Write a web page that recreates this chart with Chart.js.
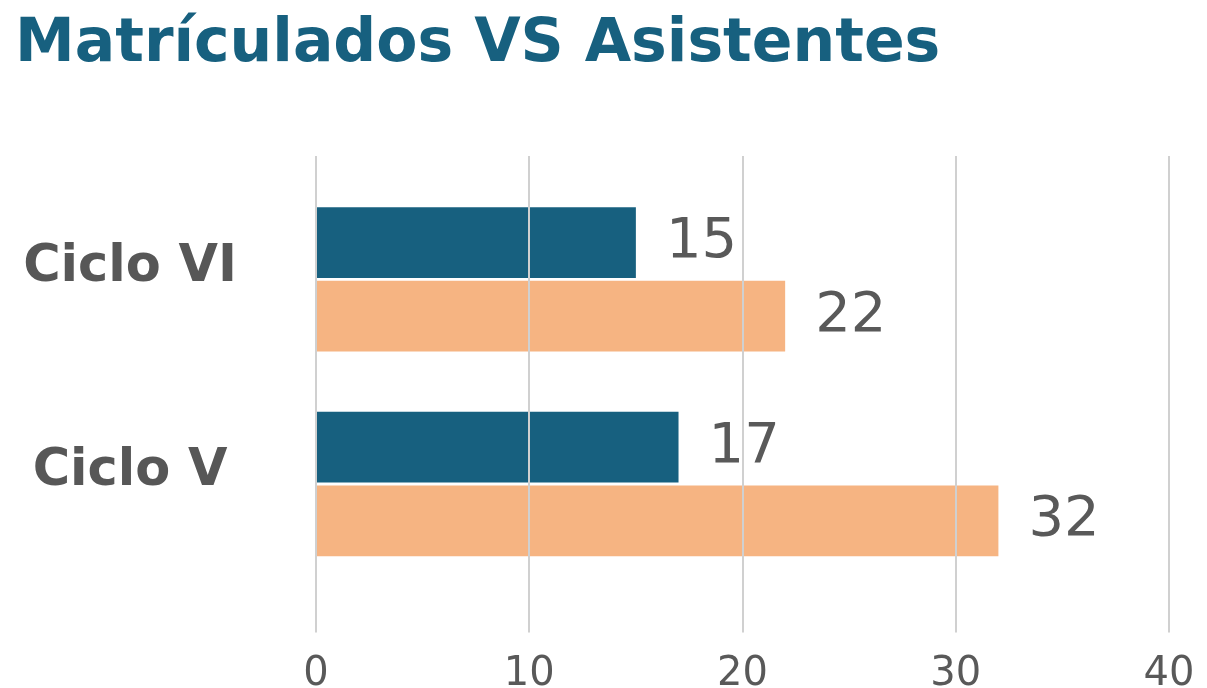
<!DOCTYPE html>
<html>
<head>
<meta charset="utf-8">
<script src="https://cdn.jsdelivr.net/npm/chart.js@4"></script>
<style>
    html, body { margin: 0; padding: 0; background: #ffffff; }
    #wrap { width: 1207px; height: 688px; }
</style>
</head>
<body>
<div id="wrap"><canvas id="myChart-ciclos"></canvas></div>
<script>
// datos
const ciclos = ['Ciclo VI', 'Ciclo V'];
const matriculados = [15, 17];
const asistentes = [22, 32];
const ticksX = [0, 10, 20, 30, 40];

const gris = '#595959';
const lineaGrid = '#d0d0d0';

// valores al final de cada barra
const etiquetas = {
    id: 'etiquetas',
    afterDatasetsDraw(chart) {
        const ctx = chart.ctx;
        ctx.save();
        ctx.font = '56px "DejaVu Sans"';
        ctx.fillStyle = gris;
        ctx.textAlign = 'left';
        ctx.textBaseline = 'middle';
        chart.data.datasets.forEach((ds, i) => {
            chart.getDatasetMeta(i).data.forEach((bar, j) => {
                ctx.fillText(ds.data[j], bar.x + 30, bar.y);
            });
        });
        ctx.restore();
    }
};

function ponerTicks(scale) {
    scale.ticks = ticksX.map(v => ({ value: v }));
}

const ctx1 = document.getElementById('myChart-ciclos').getContext('2d');
const myChart1 = new Chart(ctx1, {
    type: 'bar',
    data: {
        labels: ciclos,
        datasets: [{
            label: 'Matriculados',
            data: matriculados,
            backgroundColor: '#17607f',
            categoryPercentage: 0.72,
            barPercentage: 0.96
        }, {
            label: 'Asistentes',
            data: asistentes,
            backgroundColor: '#f6b482',
            categoryPercentage: 0.72,
            barPercentage: 0.96
        }]
    },
    options: {
        indexAxis: 'y',
        responsive: true,
        maintainAspectRatio: false,
        animation: false,
        layout: { padding: { left: 15, right: 38, top: 0, bottom: 0 } },
        plugins: {
            legend: { display: false },
            tooltip: { enabled: false },
            title: {
                display: true,
                text: 'Matrículados VS Asistentes',
                align: 'start',
                color: '#17607f',
                font: { family: 'DejaVu Sans', size: 60, weight: 'bold' },
                padding: { top: 9, bottom: 75 }
            }
        },
        scales: {
            x: {
                type: 'linear',
                position: 'bottom',
                min: 0,
                max: 40,
                afterBuildTicks: ponerTicks,
                afterFit(scale) {
                    scale.height = 100;
                    scale.paddingLeft = 0;
                    scale.paddingRight = 0;
                },
                grid: { color: lineaGrid, lineWidth: 2, tickLength: 46, z: 1 },
                border: { display: false },
                ticks: {
                    padding: 18,
                    color: gris,
                    font: { family: 'DejaVu Sans', size: 40 }
                }
            },
            x2: {
                type: 'linear',
                axis: 'x',
                position: 'top',
                min: 0,
                max: 40,
                afterBuildTicks: ponerTicks,
                grid: { color: lineaGrid, lineWidth: 2, tickLength: 21, drawOnChartArea: false },
                border: { display: false },
                ticks: { display: false }
            },
            y: {
                afterFit(scale) { scale.width = 301; },
                grid: { display: false },
                border: { display: false },
                ticks: {
                    crossAlign: 'center',
                    padding: 71,
                    labelOffset: -12,
                    color: '#575757',
                    font: { family: 'DejaVu Sans', size: 51, weight: 'bold' }
                }
            }
        }
    },
    plugins: [etiquetas]
});
</script>
</body>
</html>
